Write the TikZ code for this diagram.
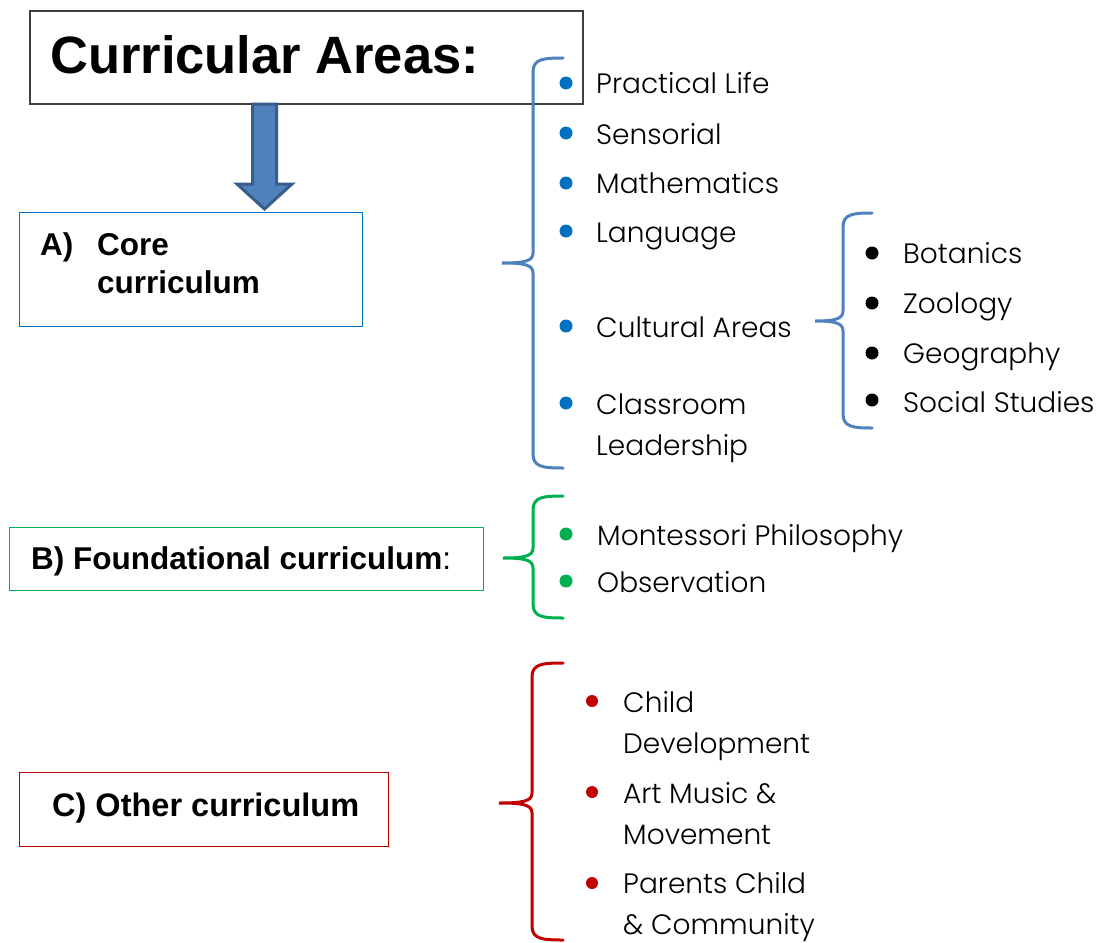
\documentclass[tikz,border=0pt]{standalone}
\usepackage{fontspec}
\setmainfont{Liberation Sans}
\IfFontExistsTF{Poppins Light}{\newfontfamily\itemfont{Poppins Light}}{\newfontfamily\itemfont{Poppins}}
\usetikzlibrary{calc}
\definecolor{bracecol}{HTML}{4F81BD}
\definecolor{dotblue}{HTML}{0070C0}
\definecolor{boxblue}{HTML}{0070C0}
\definecolor{grn}{HTML}{00B050}
\definecolor{rd}{HTML}{C00000}
\definecolor{titleborder}{HTML}{404040}
\definecolor{arrowfill}{HTML}{4F81BD}
\definecolor{arrowline}{HTML}{385D8A}
\newcommand\mybrace[7]{\draw[bracestyle,#1] (#2,#5) .. controls (#3+10,#5) and (#3,#5+1) .. (#3,#5+14) -- (#3,#6-10) .. controls (#3,#6-2) and (#3-8,#6) .. (#4,#6) .. controls (#3-8,#6) and (#3,#6+2) .. (#3,#6+10) -- (#3,#7-14) .. controls (#3,#7-1) and (#3+10,#7) .. (#2,#7);}
\begin{document}
\begin{tikzpicture}[x=1pt,y=-1pt,
  itemtext/.style={anchor=base west, inner sep=0pt, align=left, font=\itemfont\fontsize{28}{41}\selectfont, text=black},
  headtext/.style={anchor=base west, inner sep=0pt, font=\bfseries\fontsize{31.5}{38}\selectfont, text=black},
  dot/.style={circle, inner sep=0pt, minimum size=13pt},
  bracestyle/.style={line width=3pt, line cap=round},
  boxstyle/.style={draw, line width=1pt, inner sep=0pt}]
\useasboundingbox (0,0) rectangle (1097,942);
% title
\node[boxstyle, draw=titleborder, line width=1.5pt, minimum width=553pt, minimum height=93pt] (title) at (306.5,57.5) {};
\node[anchor=base west, inner sep=0pt, font=\bfseries\fontsize{52.5}{60}\selectfont] (titletext) at (50,74) {Curricular Areas:};
% box A
\node[boxstyle, draw=boxblue, minimum width=343pt, minimum height=114pt] (boxA) at (190.5,269) {};
\node[headtext] (Alab) at (40,255) {A)};
\node[headtext] (Acore) at (97,255) {Core};
\node[headtext] (Acurr) at (97,293) {curriculum};
% arrow
\coordinate (arrtop) at (264.5,104);
\coordinate (arrtip) at (264.5,209);
\draw[line width=3pt, draw=arrowline, fill=arrowfill, line join=miter]
  ($(arrtop)+(-12,0)$) -- ($(arrtop)+(12,0)$) -- ($(arrtip)+(12,-25)$) -- ($(arrtip)+(27.5,-25)$) -- (arrtip)
  -- ($(arrtip)+(-27.5,-25)$) -- ($(arrtip)+(-12,-25)$) -- cycle;
% box B
\node[boxstyle, draw=grn, minimum width=474pt, minimum height=63pt] (boxB) at (246.5,558.5) {};
\node[headtext] (Btext) at (31,569) {B) Foundational curriculum{\mdseries:}};
% box C
\node[boxstyle, draw=rd, minimum width=369pt, minimum height=74pt] (boxC) at (203.5,809) {};
\node[headtext, font=\bfseries\fontsize{32.5}{38}\selectfont] (Ctext) at (52,816) {C) Other curriculum};
% big blue brace
\mybrace{bracecol}{563}{533}{502}{58}{263}{468}
\foreach \yy/\bl/\txt/\nm in {83/93/{Practical Life}/pl, 133/144/{Sensorial}/se, 183/193/{Mathematics}/ma, 231/242/{Language}/la, 326/337/{Cultural Areas}/cu, 403/455/{Classroom\\Leadership}/cl}{
  \node[dot, fill=dotblue] (d\nm) at (566,\yy) {};
  \node[itemtext] (t\nm) at (596,\bl) {\txt};
}
% small brace
\mybrace{bracecol}{872}{843}{815}{213}{321}{428}
\foreach \yy/\bl/\txt/\nm in {253/263/Botanics/bo, 303/313/Zoology/zo, 353/363/Geography/ge, 400/412/{Social Studies}/so}{
  \node[dot, fill=black] (d\nm) at (872,\yy) {};
  \node[itemtext] (t\nm) at (903,\bl) {\txt};
}
% green brace
\mybrace{grn}{563}{533}{503}{496}{558}{618}
\foreach \yy/\bl/\txt/\nm in {534/545/{Montessori Philosophy}/mp, 581/592/Observation/ob}{
  \node[dot, fill=grn] (d\nm) at (566,\yy) {};
  \node[itemtext] (t\nm) at (597,\bl) {\txt};
}
% red brace
\mybrace{rd}{563}{532}{499}{663}{803}{940}
\foreach \yy/\bl/\txt/\nm in {701/753/{Child\\Development}/cd, 792/844/{Art Music \&\\Movement}/am, 883/934/{Parents Child\\\& Community}/pc}{
  \node[dot, fill=rd, minimum size=12pt] (d\nm) at (592,\yy) {};
  \node[itemtext] (t\nm) at (623,\bl) {\txt};
}
\end{tikzpicture}
\end{document}
